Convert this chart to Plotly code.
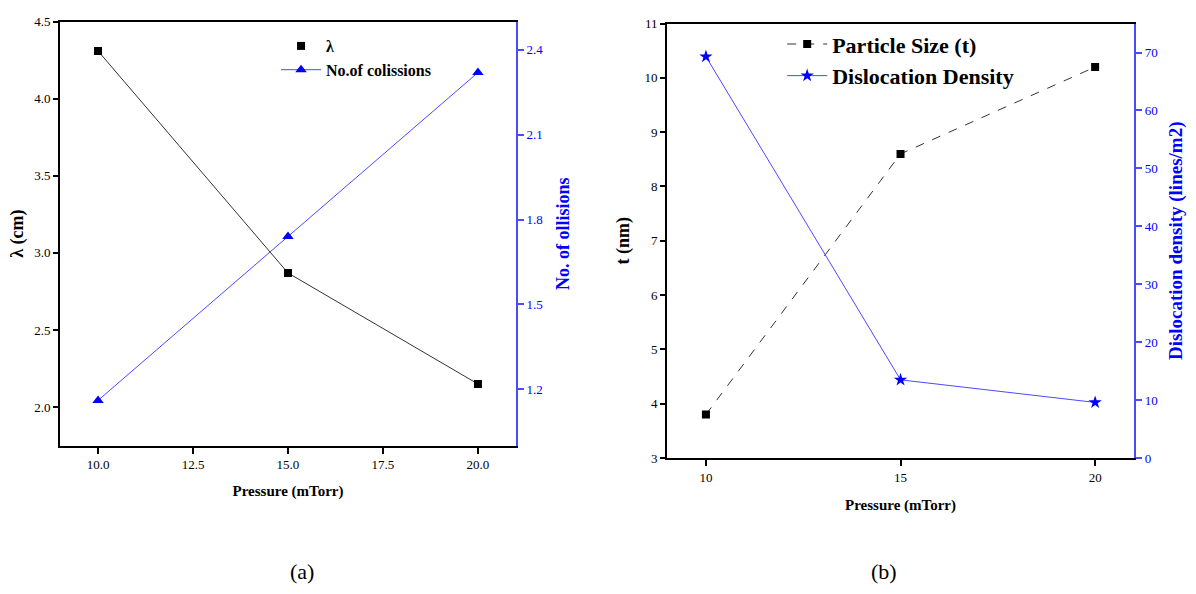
import plotly.graph_objects as go

# ---- data ----
pressure = [10, 15, 20]
lam_cm = [4.31, 2.87, 2.15]
collisions = [1.16, 1.74, 2.32]
particle_size_nm = [3.8, 8.6, 10.2]
dislocation_density = [69.3, 13.5, 9.6]

FONT = "Liberation Serif"
BLUE = "#0000ff"
BLUE_LINE = "#4a4aff"

fig = go.Figure()

# ---- panel (a) ----
fig.add_trace(go.Scatter(x=pressure, y=lam_cm, mode="lines",
                         line=dict(color="#333333", width=1),
                         showlegend=False, xaxis="x", yaxis="y"))
fig.add_trace(go.Scatter(x=pressure, y=lam_cm, mode="markers", name="λ",
                         marker=dict(symbol="square", size=8, color="black"),
                         legend="legend", xaxis="x", yaxis="y"))
fig.add_trace(go.Scatter(x=pressure, y=collisions, mode="lines+markers",
                         name="No.of colissions",
                         line=dict(color=BLUE_LINE, width=1),
                         marker=dict(symbol="triangle-up", size=10, color=BLUE),
                         legend="legend", xaxis="x", yaxis="y2"))

# ---- panel (b) ----
fig.add_trace(go.Scatter(x=pressure, y=particle_size_nm, mode="lines+markers",
                         name="Particle Size (t)",
                         line=dict(color="#333333", width=1, dash="dash"),
                         marker=dict(symbol="square", size=8, color="black"),
                         legend="legend2", xaxis="x2", yaxis="y3"))
fig.add_trace(go.Scatter(x=pressure, y=dislocation_density, mode="lines+markers",
                         name="Dislocation Density",
                         line=dict(color=BLUE_LINE, width=1),
                         marker=dict(symbol="star", size=10, color=BLUE),
                         legend="legend2", xaxis="x2", yaxis="y4"))

tickfont = dict(family=FONT, size=13, color="black")
xtitlefont = dict(family=FONT, size=15, color="black", weight="bold")
ytitlefont = dict(family=FONT, size=18, color="black", weight="bold")
bluetick = dict(family=FONT, size=13, color=BLUE)
bluetitle = dict(family=FONT, size=18, color=BLUE, weight="bold")
bluetitle_b = dict(family=FONT, size=19, color=BLUE, weight="bold")

common_x = dict(showline=True, linecolor="black", linewidth=2, mirror=True,
                ticks="outside", ticklen=6, tickwidth=1.5, tickcolor="black",
                showgrid=False, zeroline=False, tickfont=tickfont)
common_yl = dict(showline=True, linecolor="black", linewidth=2,
                 ticks="outside", ticklen=5, tickwidth=1.5, tickcolor="black",
                 showgrid=False, zeroline=False, tickfont=tickfont)
common_yr = dict(showline=True, linecolor=BLUE_LINE, linewidth=2, side="right",
                 ticks="outside", ticklen=6, tickwidth=1.5, tickcolor=BLUE_LINE,
                 showgrid=False, zeroline=False, tickfont=bluetick)

fig.update_layout(
    width=1196, height=594,
    margin=dict(l=0, r=0, t=0, b=0),
    paper_bgcolor="white", plot_bgcolor="white",
    xaxis=dict(domain=[0.0502, 0.4314], range=[9, 21], anchor="y",
               tick0=10, dtick=2.5, tickformat=".1f",
               title=dict(text="Pressure (mTorr)", font=xtitlefont, standoff=14),
               **common_x),
    yaxis=dict(domain=[0.2424, 0.9747], range=[1.75, 4.5], anchor="x",
               tick0=2.0, dtick=0.5, tickformat=".1f",
               title=dict(text="λ (cm)", font=ytitlefont, standoff=6),
               **common_yl),
    yaxis2=dict(overlaying="y", anchor="x", range=[1.0, 2.5],
                tick0=1.2, dtick=0.3, tickformat=".1f",
                title=dict(text="No. of ollisions", font=bluetitle, standoff=14),
                **common_yr),
    xaxis2=dict(domain=[0.5577, 0.9482], range=[9, 21], anchor="y3",
                tick0=10, dtick=5,
                title=dict(text="Pressure (mTorr)", font=xtitlefont, standoff=16),
                **common_x),
    yaxis3=dict(domain=[0.2210, 0.9714], range=[3, 11], anchor="x2",
                tick0=3, dtick=1,
                title=dict(text="t (nm)", font=ytitlefont, standoff=10),
                **common_yl),
    yaxis4=dict(overlaying="y3", anchor="x2", range=[0, 75],
                tick0=0, dtick=10,
                title=dict(text="Dislocation density (lines/m2)", font=bluetitle_b, standoff=12),
                **common_yr),
    legend=dict(x=0.2308, y=0.962, xanchor="left", yanchor="top",
                itemwidth=40, tracegroupgap=0,
                bgcolor="rgba(0,0,0,0)",
                font=dict(family=FONT, size=16, color="black", weight="bold")),
    legend2=dict(x=0.654, y=0.972, xanchor="left", yanchor="top",
                 itemwidth=40,
                 bgcolor="rgba(0,0,0,0)",
                 font=dict(family=FONT, size=22, color="black", weight="bold")),
    annotations=[
        dict(text="(a)", x=302 / 1196, y=1 - 579 / 594, xref="paper", yref="paper",
             xanchor="center", yanchor="middle",
             showarrow=False, font=dict(family=FONT, size=22, color="black")),
        dict(text="(b)", x=884 / 1196, y=1 - 579 / 594, xref="paper", yref="paper",
             xanchor="center", yanchor="middle",
             showarrow=False, font=dict(family=FONT, size=22, color="black")),
    ],
)

fig.write_html("out.html")
